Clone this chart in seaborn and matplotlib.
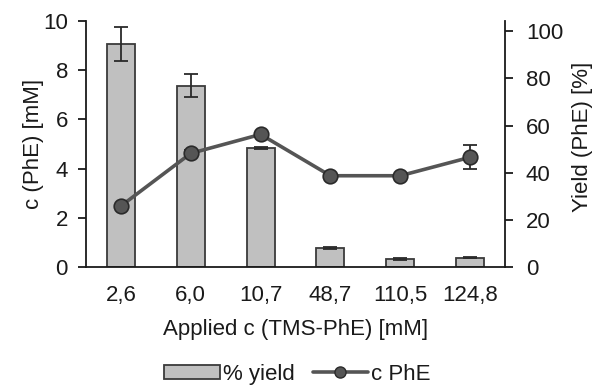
import matplotlib
matplotlib.use("Agg")
import matplotlib.pyplot as plt
import seaborn as sns
import pandas as pd
from matplotlib.patches import Patch
from matplotlib.lines import Line2D

categories = ["2,6", "6,0", "10,7", "48,7", "110,5", "124,8"]
yield_pct = [94.8, 77.0, 50.5, 8.0, 3.4, 4.0]
yield_err = [7.2, 4.8, 0.5, 0.3, 0.3, 0.3]
c_phe = [2.48, 4.62, 5.39, 3.71, 3.71, 4.46]
c_phe_err = [0.03, 0.15, 0.03, 0.03, 0.03, 0.49]

sns.set_theme(style="white")
plt.rcParams["font.family"] = ["Liberation Sans", "DejaVu Sans"]
FS = 16

df = pd.DataFrame({"cat": categories, "yield": yield_pct, "c": c_phe})

fig = plt.figure(figsize=(5.95, 3.85), dpi=100)
L, R, T, B = 86, 505, 21, 267
ax1 = fig.add_axes([L/595, 1-B/385, (R-L)/595, (B-T)/385])
ax2 = ax1.twinx()

bar_col = "#c0c0c0"
edge_col = "#3a3a3a"
line_col = "#555555"
dark = "#1a1a1a"

sns.barplot(data=df, x="cat", y="yield", order=categories, ax=ax2,
            color=bar_col, edgecolor=edge_col, linewidth=1.3, width=0.4,
            errorbar=None, saturation=1)
ax2.errorbar(range(len(categories)), yield_pct, yerr=yield_err, fmt="none",
             ecolor="#2a2a2a", elinewidth=1.3, capsize=4.8, capthick=1.3)

sns.lineplot(x=list(range(len(categories))), y=c_phe, ax=ax1, color=line_col,
             linewidth=2.6, marker="o", markersize=10.5,
             markerfacecolor="#555555", markeredgecolor="#2a2a2a",
             markeredgewidth=1.2)
ax1.errorbar(range(len(categories)), c_phe, yerr=c_phe_err, fmt="none",
             ecolor="#2a2a2a", elinewidth=1.3, capsize=4.8, capthick=1.3, zorder=1)

ax1.set_zorder(ax2.get_zorder() + 1)
ax1.patch.set_visible(False)

ax1.set_xlim(-0.5, 5.5)
ax2.set_xlim(-0.5, 5.5)
ax1.set_ylim(0, 10)
ax2.set_ylim(0, 104.4)
ax1.set_yticks([0, 2, 4, 6, 8, 10])
ax2.set_yticks([0, 20, 40, 60, 80, 100])
ax1.set_xticks(range(len(categories)))
ax1.set_xticklabels(categories)

for ax in (ax1, ax2):
    for s in ax.spines.values():
        s.set_visible(False)
    ax.set_xlabel("")
    ax.set_ylabel("")
ax1.spines["left"].set_visible(True)
ax1.spines["bottom"].set_visible(True)
ax2.spines["right"].set_visible(True)
for s in (ax1.spines["left"], ax1.spines["bottom"], ax2.spines["right"]):
    s.set_color(dark)
    s.set_linewidth(1.3)

ax1.tick_params(axis="y", direction="out", length=6, width=1.3, color=dark,
                labelsize=FS, pad=7, left=True, labelcolor=dark)
ax2.tick_params(axis="y", direction="out", length=6, width=1.3, color=dark,
                labelsize=FS, pad=9, right=True, labelcolor=dark)
ax1.tick_params(axis="x", length=0, labelsize=FS, pad=13, labelcolor=dark)
ax2.tick_params(axis="x", length=0, labelbottom=False)

W = R - L
H = B - T
ax1.set_ylabel("c (PhE) [mM]", fontsize=FS, color=dark)
ax1.yaxis.set_label_coords((33 - L) / W, 0.5)
ax1.yaxis.label.set_verticalalignment("center")
ax2.set_ylabel("Yield (PhE) [%]", fontsize=FS, color=dark)
ax2.yaxis.set_label_coords((582 - L) / W, (B - 137) / H)
ax2.yaxis.label.set_verticalalignment("center")
ax1.set_xlabel("Applied c (TMS-PhE) [mM]", fontsize=FS, color=dark)
ax1.xaxis.set_label_coords(0.5, -(330 - B) / H)
ax1.xaxis.label.set_verticalalignment("center")

handles = [Patch(facecolor=bar_col, edgecolor=edge_col, linewidth=1.3),
           Line2D([0], [0], color=line_col, linewidth=2.6, marker="o",
                  markersize=8, markerfacecolor="#555555", markeredgecolor="#2a2a2a")]
fig.legend(handles, ["% yield", "c PhE"], loc="center", bbox_to_anchor=(0.5, 0.028),
           ncol=2, frameon=False, fontsize=FS, handlelength=2.5, handleheight=0.55,
           handletextpad=0.15, columnspacing=0.8, labelcolor=dark)

fig.savefig("out.png", dpi=100)
